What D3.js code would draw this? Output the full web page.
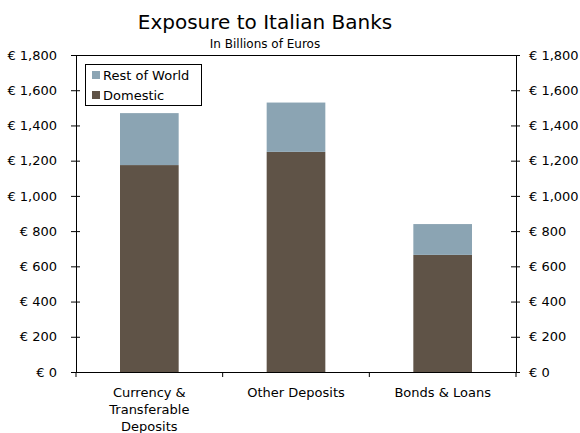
<html>
<meta charset="utf-8">
<script src="https://d3js.org/d3.v7.min.js"></script>
<style>
  body { margin: 0; background: #fff; }
  text { font-family: "DejaVu Sans", Verdana, sans-serif; fill: #000; }
</style>
<body>
<script>
const categories = [["Currency &", "Transferable", "Deposits"], ["Other Deposits"], ["Bonds & Loans"]];
const domestic = [1175, 1250, 665];
const restOfWorld = [295, 280, 175];
const seriesNames = ["Domestic", "Rest of World"];
const yTicks = [0, 200, 400, 600, 800, 1000, 1200, 1400, 1600, 1800];

const colors = { "Domestic": "#5f5347", "Rest of World": "#8ba4b3" };
const margin = { top: 55, right: 64, bottom: 61, left: 76 };
const width = 580 - margin.left - margin.right;
const height = 433 - margin.top - margin.bottom;

const rows = categories.map((c, i) => ({ key: i, "Domestic": domestic[i], "Rest of World": restOfWorld[i] }));
const stacked = d3.stack().keys(seriesNames)(rows);

const svg = d3.select('body').append('svg')
  .attr('width', 580).attr('height', 433);

svg.append('text').attr('x', 265).attr('y', 29).attr('text-anchor', 'middle')
  .style('font-size', '20px').text('Exposure to Italian Banks');
svg.append('text').attr('x', 265).attr('y', 48).attr('text-anchor', 'middle')
  .style('font-size', '12px').text('In Billions of Euros');

const g = svg.append('g').attr('transform', `translate(${margin.left},${margin.top})`);

const x = d3.scaleBand().domain(d3.range(categories.length)).range([0, width]).paddingInner(0.6).paddingOuter(0.3);
const xBand = d3.scaleBand().domain(d3.range(categories.length)).range([0, width]);
const y = d3.scaleLinear().domain([0, 1800]).range([height, 0]);

g.selectAll('.series').data(stacked).enter().append('g')
  .attr('fill', d => colors[d.key])
  .selectAll('rect').data(d => d).enter().append('rect')
  .attr('x', (d, i) => x(i))
  .attr('width', x.bandwidth())
  .attr('y', d => y(d[1]))
  .attr('height', d => y(d[0]) - y(d[1]));

// frame top line
g.append('line').attr('x1', 0).attr('x2', width).attr('y1', 0.5).attr('y2', 0.5)
  .attr('stroke', '#000');

const fmt = v => '€ ' + d3.format(',')(v);
const yl = g.append('g').call(d3.axisLeft(y).tickValues(yTicks).tickFormat(fmt).tickSizeOuter(0));
const yr = g.append('g').attr('transform', `translate(${width},0)`)
  .call(d3.axisRight(y).tickValues(yTicks).tickFormat(fmt).tickSizeOuter(0));
yl.selectAll('text').attr('x', -19);
yr.selectAll('text').attr('x', 13);
[yl, yr].forEach(a => {
  a.select('.domain').attr('stroke', '#000');
  a.selectAll('text').style('font-size', '13px').attr('fill', '#000');
  a.selectAll('.tick line').attr('x1', -5).attr('x2', 4).attr('stroke', '#000');
});

const xa = g.append('g').attr('transform', `translate(0,${height})`)
  .call(d3.axisBottom(xBand).tickSize(0).tickFormat(''));
xa.selectAll('.tick').remove();
xa.select('.domain').attr('stroke', '#000');
const bounds = d3.range(categories.length + 1).map(i => i * xBand.bandwidth());
xa.selectAll('.sep').data(bounds).enter().append('line')
  .attr('x1', d => d).attr('x2', d => d).attr('y1', 0).attr('y2', 5).attr('stroke', '#000');
xa.selectAll('.lab').data(categories).enter().append('text')
  .attr('text-anchor', 'middle').style('font-size', '13px')
  .attr('transform', (d, i) => `translate(${xBand(i) + xBand.bandwidth() / 2},25)`)
  .selectAll('tspan').data(d => d).enter().append('tspan')
  .attr('x', 0).attr('dy', (d, i) => i === 0 ? 0 : 17).text(d => d);

// legend
const lg = g.append('g').attr('transform', 'translate(9.5,9.5)');
lg.append('rect').attr('width', 116).attr('height', 41).attr('fill', '#fff').attr('stroke', '#000');
const legendItems = ["Rest of World", "Domestic"];
legendItems.forEach((name, i) => {
  const row = lg.append('g').attr('transform', `translate(6.5,${6.5 + i * 20})`);
  row.append('rect').attr('width', 8).attr('height', 8).attr('fill', colors[name]);
  row.append('text').attr('x', 11).attr('y', 9).style('font-size', '13px').text(name);
});
</script>
</body>
</html>
